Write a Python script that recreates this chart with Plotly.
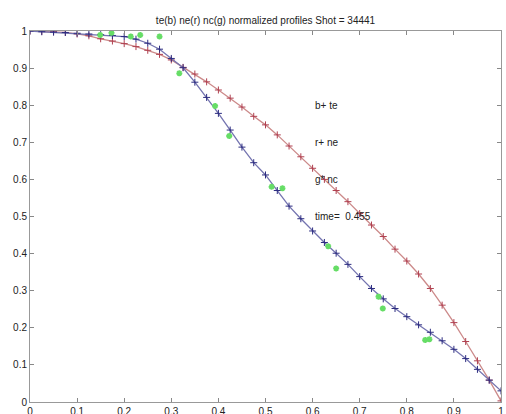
import plotly.graph_objects as go

# radial coordinate (normalized), 0.025 step
rho = [i * 0.025 for i in range(41)]

# te (blue)
te = [1.0, 0.998, 0.997, 0.996, 0.994, 0.992, 0.990, 0.988, 0.985, 0.978,
      0.967, 0.951, 0.926, 0.901, 0.862, 0.821, 0.778, 0.733, 0.687, 0.645,
      0.612, 0.570, 0.528, 0.494, 0.461, 0.430, 0.401, 0.371, 0.338, 0.306,
      0.278, 0.252, 0.230, 0.208, 0.188, 0.165, 0.142, 0.117, 0.088, 0.059,
      0.030]

# ne (red)
ne = [1.0, 0.999, 0.998, 0.996, 0.992, 0.987, 0.979, 0.973, 0.966, 0.958,
      0.948, 0.937, 0.922, 0.902, 0.884, 0.863, 0.841, 0.819, 0.795, 0.770,
      0.747, 0.720, 0.690, 0.661, 0.630, 0.600, 0.570, 0.540, 0.508, 0.477,
      0.446, 0.412, 0.380, 0.345, 0.306, 0.261, 0.214, 0.163, 0.111, 0.059,
      0.003]

# nc (green) measured points
nc_x = [0.149, 0.173, 0.214, 0.234, 0.275, 0.317, 0.393, 0.423, 0.513, 0.536,
        0.633, 0.650, 0.740, 0.749, 0.839, 0.848]
nc_y = [0.989, 0.995, 0.985, 0.989, 0.985, 0.886, 0.798, 0.717, 0.580, 0.576,
        0.420, 0.360, 0.284, 0.252, 0.167, 0.169]

tick_vals = [0, 0.1, 0.2, 0.3, 0.4, 0.5, 0.6, 0.7, 0.8, 0.9, 1]
tick_text = ["0", "0.1", "0.2", "0.3", "0.4", "0.5", "0.6", "0.7", "0.8", "0.9", "1"]

annot_x = 0.6
annot_y = [0.8, 0.7, 0.6, 0.5]
annot_text = ["b+ te", "r+ ne", "g* nc", "time=  0.455"]

fig = go.Figure()
fig.add_trace(go.Scatter(
    x=rho, y=ne, mode="lines+markers",
    line=dict(color="#cc8a8a", width=1.3),
    marker=dict(symbol="cross-thin", size=5, line=dict(color="#b04050", width=1)),
    showlegend=False))
fig.add_trace(go.Scatter(
    x=rho, y=te, mode="lines+markers",
    line=dict(color="#7474b0", width=1.3),
    marker=dict(symbol="cross-thin", size=5, line=dict(color="#2c2c80", width=1)),
    showlegend=False))
fig.add_trace(go.Scatter(
    x=nc_x, y=nc_y, mode="markers",
    marker=dict(symbol="asterisk", size=5, line=dict(color="#66dd66", width=1.8)),
    showlegend=False))

for yy, tt in zip(annot_y, annot_text):
    fig.add_annotation(x=annot_x, y=yy, text=tt, showarrow=False,
                       xanchor="left", yanchor="middle",
                       font=dict(size=10, color="#222222", family="Liberation Sans, Arial"))

axis_common = dict(
    range=[0, 1], tickmode="array", tickvals=tick_vals, ticktext=tick_text,
    ticks="inside", ticklen=4, tickcolor="#888888", showgrid=False, zeroline=False,
    showline=True, linecolor="#999999", linewidth=1, mirror="ticks",
    tickfont=dict(size=10, color="#222222", family="Liberation Sans, Arial"),
    automargin=False,
)

fig.update_layout(
    width=506, height=414,
    margin=dict(l=30, r=5, t=31, b=12),
    paper_bgcolor="white", plot_bgcolor="white",
    title=dict(text="te(b) ne(r) nc(g) normalized profiles Shot = 34441",
               x=265.5 / 506, xanchor="center", y=1 - 20 / 414, yanchor="middle",
               font=dict(size=10, color="#222222", family="Liberation Sans, Arial")),
    xaxis=dict(**axis_common),
    yaxis=dict(**axis_common),
)

fig.write_html("out.html")
